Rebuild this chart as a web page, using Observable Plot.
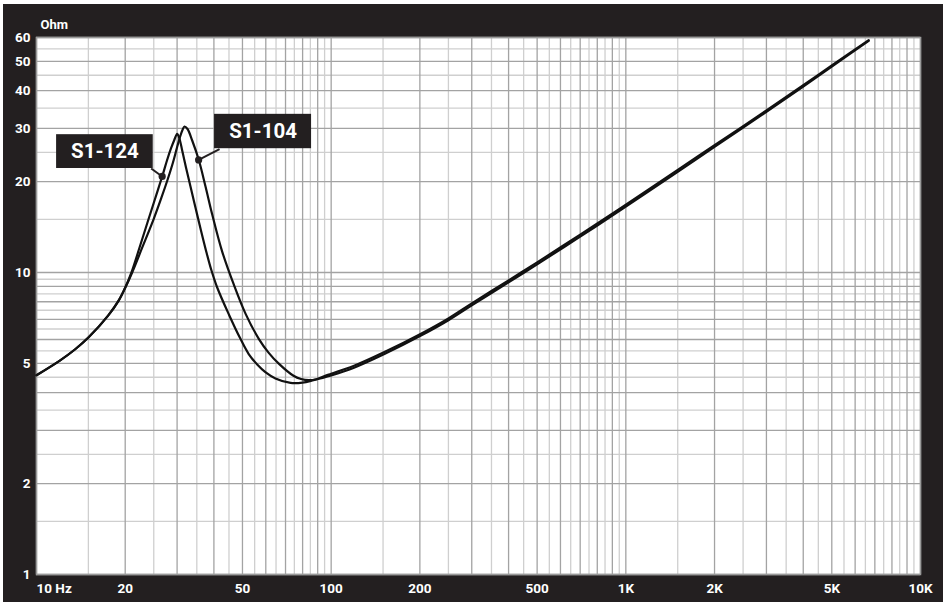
<!DOCTYPE html>
<html><head><meta charset="utf-8">
<script src="https://cdn.jsdelivr.net/npm/d3@7"></script>
<script src="https://cdn.jsdelivr.net/npm/@observablehq/plot@0.6"></script>
<style>
html,body{margin:0;padding:0;background:#fff;}
#chart{position:absolute;left:3px;top:4px;}
</style></head><body><div id="chart"></div>
<script>
// S1-124 impedance curve (Hz, Ohm)
const freq124 = [10, 12, 13.5, 15, 17.5, 19, 20, 21, 22.54, 23.86, 25.15, 26.7, 27.72, 28.6, 29.35, 30.02, 30.4, 30.8, 31.22, 32.16, 33.31, 34.63, 36.02, 37.75, 39.25, 41.04, 45, 49.22, 52.5, 56.1, 59.8, 64.7, 72.8, 79.9, 87.1, 92, 100, 119, 151, 201, 250, 301, 400, 500, 700, 960, 1500, 2000, 3000, 4000, 5000, 6670];
const ohm124  = [4.57, 5.11, 5.56, 6.09, 7.2, 8.07, 8.9, 10.0, 12.38, 14.75, 17.31, 20.79, 23.49, 25.74, 27.47, 28.8, 28.2, 26.95, 25.35, 22.27, 19.28, 16.41, 13.99, 11.65, 10.15, 8.92, 7.25, 6.03, 5.37, 4.96, 4.68, 4.46, 4.31, 4.32, 4.40, 4.46, 4.56, 4.83, 5.36, 6.17, 6.95, 7.80, 9.28, 10.64, 13.15, 16.08, 21.55, 26.05, 34.05, 41.3, 48.1, 58.5];
// S1-104 impedance curve (Hz, Ohm)
const freq104 = [10, 12, 13.5, 15, 17.5, 19, 20, 21.12, 22.89, 25.0, 26.56, 27.9, 29.05, 29.98, 30.69, 31.29, 31.78, 32.54, 33.76, 35.53, 37.46, 39.48, 42.67, 46.71, 51.2, 56.8, 61.3, 66.4, 74.5, 79, 84, 89, 95, 100, 119, 151, 201, 250, 301, 400, 500, 700, 960, 1500, 2000, 3000, 4000, 5000, 6670];
const ohm104  = [4.57, 5.11, 5.56, 6.09, 7.2, 8.07, 8.9, 10.0, 12.15, 15.06, 17.72, 20.4, 23.13, 25.94, 28.1, 29.64, 30.44, 29.87, 27.36, 23.62, 19.27, 15.56, 11.73, 9.13, 7.31, 6.03, 5.43, 4.99, 4.55, 4.44, 4.40, 4.43, 4.54, 4.62, 4.90, 5.44, 6.26, 7.05, 7.92, 9.42, 10.8, 13.35, 16.32, 21.87, 26.4, 34.4, 41.7, 48.5, 58.8];

const xMajor = [10,20,30,40,50,60,70,80,90,100,200,300,400,500,600,700,800,900,1000,2000,3000,4000,5000,6000,7000,8000,9000,10000];
const xMinor = [15,25,35,45,55,65,75,85,95,150,250,350,450,550,650,750,850,950,1500,2500,3500,4500,5500,6500,7500,8500,9500];
const yMajor = [1,2,3,4,5,6,7,8,9,10,20,30,40,50,60];
const yMinor = [1.5,2.5,3.5,4.5,5.5,6.5,7.5,8.5,9.5,15,25,35,45,55];

const xTickValues = [10,20,50,100,200,500,1000,2000,5000,10000];
const xTickLabels = ["10 Hz","20","50","100","200","500","1K","2K","5K","10K"];
const yTickValues = [1,2,5,10,20,30,40,50,60];

// annotation labels: box extent, leader start, point on curve
const labelNames = ["S1-124","S1-104"];
const boxF1 = [11.7, 40.2], boxF2 = [24.9, 85.8];
const boxO1 = [22.1, 25.7], boxO2 = [28.6, 33.4];
const leadF = [24.5, 41.8], leadO = [22.1, 25.6];
const dotF = [26.7, 35.5], dotO = [20.8, 23.6];

const curve124 = freq124.map((f,i)=>({f, z: ohm124[i]}));
const curve104 = freq104.map((f,i)=>({f, z: ohm104[i]}));
const labels = labelNames.map((name,i)=>({name, f1: boxF1[i], f2: boxF2[i], o1: boxO1[i], o2: boxO2[i],
  lf: leadF[i], lo: leadO[i], df: dotF[i], do: dotO[i]}));
const xTicks = xTickValues.map((v,i)=>({v, t: xTickLabels[i]}));

const dark = "#231f20";
const font = "Roboto, 'DejaVu Sans', sans-serif";
const tickStyle = {fill: "white", fontSize: 13.5, fontWeight: 700, fontFamily: font};

const chart = Plot.plot({
  width: 940, height: 598,
  marginLeft: 33, marginTop: 33, marginRight: 23, marginBottom: 28,
  style: {background: dark, color: "white", fontFamily: font},
  x: {type: "log", domain: [10, 10000], axis: null},
  y: {type: "log", domain: [1, 60], axis: null},
  marks: [
    Plot.frame({fill: "white", stroke: "none"}),
    Plot.ruleX(xMinor, {stroke: "#cfcfcf", strokeWidth: 1.3}),
    Plot.ruleY(yMinor, {stroke: "#cfcfcf", strokeWidth: 1.3}),
    Plot.ruleX(xMajor, {stroke: "#a3a3a3", strokeWidth: 1.3}),
    Plot.ruleY(yMajor, {stroke: "#a3a3a3", strokeWidth: 1.3}),
    Plot.frame({stroke: "#9a9a9a", strokeWidth: 1.5}),
    Plot.line(curve124, {x: "f", y: "z", stroke: "#111", strokeWidth: 2.2, curve: "catmull-rom"}),
    Plot.line(curve104, {x: "f", y: "z", stroke: "#111", strokeWidth: 2.2, curve: "catmull-rom"}),
    Plot.rect(labels, {x1: "f1", x2: "f2", y1: "o1", y2: "o2", fill: dark}),
    Plot.link(labels, {x1: "lf", y1: "lo", x2: "df", y2: "do", stroke: dark, strokeWidth: 2}),
    Plot.dot(labels, {x: "df", y: "do", r: 3.6, fill: dark}),
    Plot.text(labels, {x: d => Math.sqrt(d.f1*d.f2), y: d => Math.sqrt(d.o1*d.o2), text: "name",
      fill: "white", fontSize: 20.5, fontWeight: 700, fontFamily: font}),
    Plot.text(yTickValues, {y: d => d, text: d => String(d), frameAnchor: "left", textAnchor: "end",
      lineAnchor: "middle", dx: -6, ...tickStyle}),
    Plot.text(xTicks.slice(0,1), {x: "v", text: "t", frameAnchor: "bottom", textAnchor: "start",
      lineAnchor: "middle", dy: 14, ...tickStyle}),
    Plot.text(xTicks.slice(1), {x: "v", text: "t", frameAnchor: "bottom", lineAnchor: "middle", dy: 14, ...tickStyle}),
    Plot.text(["Ohm"], {text: d => d, frameAnchor: "top-left", textAnchor: "start", lineAnchor: "middle",
      dx: 4, dy: -13, fill: "white", fontSize: 13, fontWeight: 700, fontFamily: font})
  ]
});
document.getElementById("chart").append(chart);
</script></body></html>
